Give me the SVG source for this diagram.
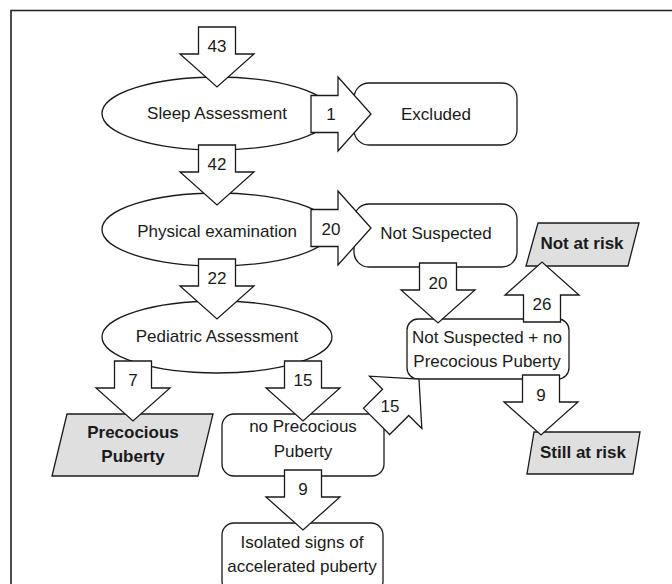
<svg xmlns="http://www.w3.org/2000/svg" xmlns:xlink="http://www.w3.org/1999/xlink" width="672" height="584" viewBox="0 0 672 584">
<style>
.shape{fill:#ffffff;stroke:#1a1a1a;stroke-width:1.3}
.grey{fill:#dfdfdf;stroke:#1a1a1a;stroke-width:1.3}
.arrow{fill:#ffffff;stroke:#1a1a1a;stroke-width:1.3;stroke-linejoin:miter}
text{font-family:"Liberation Sans",Arial,sans-serif;font-size:17px;fill:#1a1a1a;text-anchor:middle}
.b{font-weight:bold}
.frame{fill:none;stroke:#222;stroke-width:1.6}
</style>
<defs>
<polygon id="arr" points="-18.5,-60 18.5,-60 18.5,-33 37,-33 0,0 -37,-33 -18.5,-33"/>
</defs>
<rect x="0" y="0" width="672" height="584" fill="#ffffff"/>
<path class="frame" d="M11,584 V10.5 H672"/>

<g id="sleep"><ellipse class="shape" cx="217" cy="113.5" rx="115" ry="36.5"/><text x="217" y="119">Sleep Assessment</text></g>
<g id="excluded"><rect class="shape" x="354" y="83" width="163" height="62" rx="15"/><text x="436" y="120">Excluded</text></g>
<g id="physical"><ellipse class="shape" cx="217" cy="229.5" rx="115" ry="36.5"/><text x="217" y="237">Physical examination</text></g>
<g id="notsuspected"><rect class="shape" x="354" y="204" width="163" height="63" rx="15"/><text x="436" y="239">Not Suspected</text></g>
<g id="pediatric"><ellipse class="shape" cx="217" cy="337" rx="115" ry="36"/><text x="217" y="342">Pediatric Assessment</text></g>
<g id="precocious"><polygon class="grey" points="67,414 213,414 198,476 52,476"/><text class="b" x="133" y="438">Precocious</text><text class="b" x="133" y="462">Puberty</text></g>
<g id="noprecocious"><rect class="shape" x="222" y="414" width="162" height="62" rx="12"/><text x="303" y="432">no Precocious</text><text x="303" y="457">Puberty</text></g>
<g id="isolated"><rect class="shape" x="222" y="523" width="161" height="70" rx="12"/><text x="302" y="548">Isolated signs of</text><text x="302" y="572">accelerated puberty</text></g>
<g id="notsuspectednopp"><rect class="shape" x="407" y="319" width="162" height="60" rx="11"/><text x="487" y="343">Not Suspected + no</text><text x="487" y="367">Precocious Puberty</text></g>
<g id="notatrisk"><polygon class="grey" points="538,223 639,223 628,266 526,266"/><text class="b" x="582" y="249">Not at risk</text></g>
<g id="stillatrisk"><polygon class="grey" points="534,432 640,432 633,474 527,474"/><text class="b" x="583" y="458">Still at risk</text></g>

<g id="connectors">
<use xlink:href="#arr" href="#arr" class="arrow" transform="translate(217,87)"/><text x="217" y="52">43</text>
<use xlink:href="#arr" href="#arr" class="arrow" transform="translate(371,114) rotate(-90)"/><text x="331" y="120">1</text>
<use xlink:href="#arr" href="#arr" class="arrow" transform="translate(217,205)"/><text x="217" y="170">42</text>
<use xlink:href="#arr" href="#arr" class="arrow" transform="translate(371,228) rotate(-90)"/><text x="331" y="235">20</text>
<use xlink:href="#arr" href="#arr" class="arrow" transform="translate(217,319)"/><text x="217" y="284">22</text>
<use xlink:href="#arr" href="#arr" class="arrow" transform="translate(133,421)"/><text x="133" y="386">7</text>
<use xlink:href="#arr" href="#arr" class="arrow" transform="translate(303,421)"/><text x="303" y="386">15</text>
<use xlink:href="#arr" href="#arr" class="arrow" transform="translate(303,530)"/><text x="303" y="495">9</text>
<use xlink:href="#arr" href="#arr" class="arrow" transform="translate(419,379) rotate(-135)"/><text x="390" y="412">15</text>
<use xlink:href="#arr" href="#arr" class="arrow" transform="translate(438,323)"/><text x="438" y="289">20</text>
<use xlink:href="#arr" href="#arr" class="arrow" transform="translate(542,262) rotate(180)"/><text x="542" y="310">26</text>
<use xlink:href="#arr" href="#arr" class="arrow" transform="translate(541,435)"/><text x="541" y="401">9</text>
</g>
</svg>
